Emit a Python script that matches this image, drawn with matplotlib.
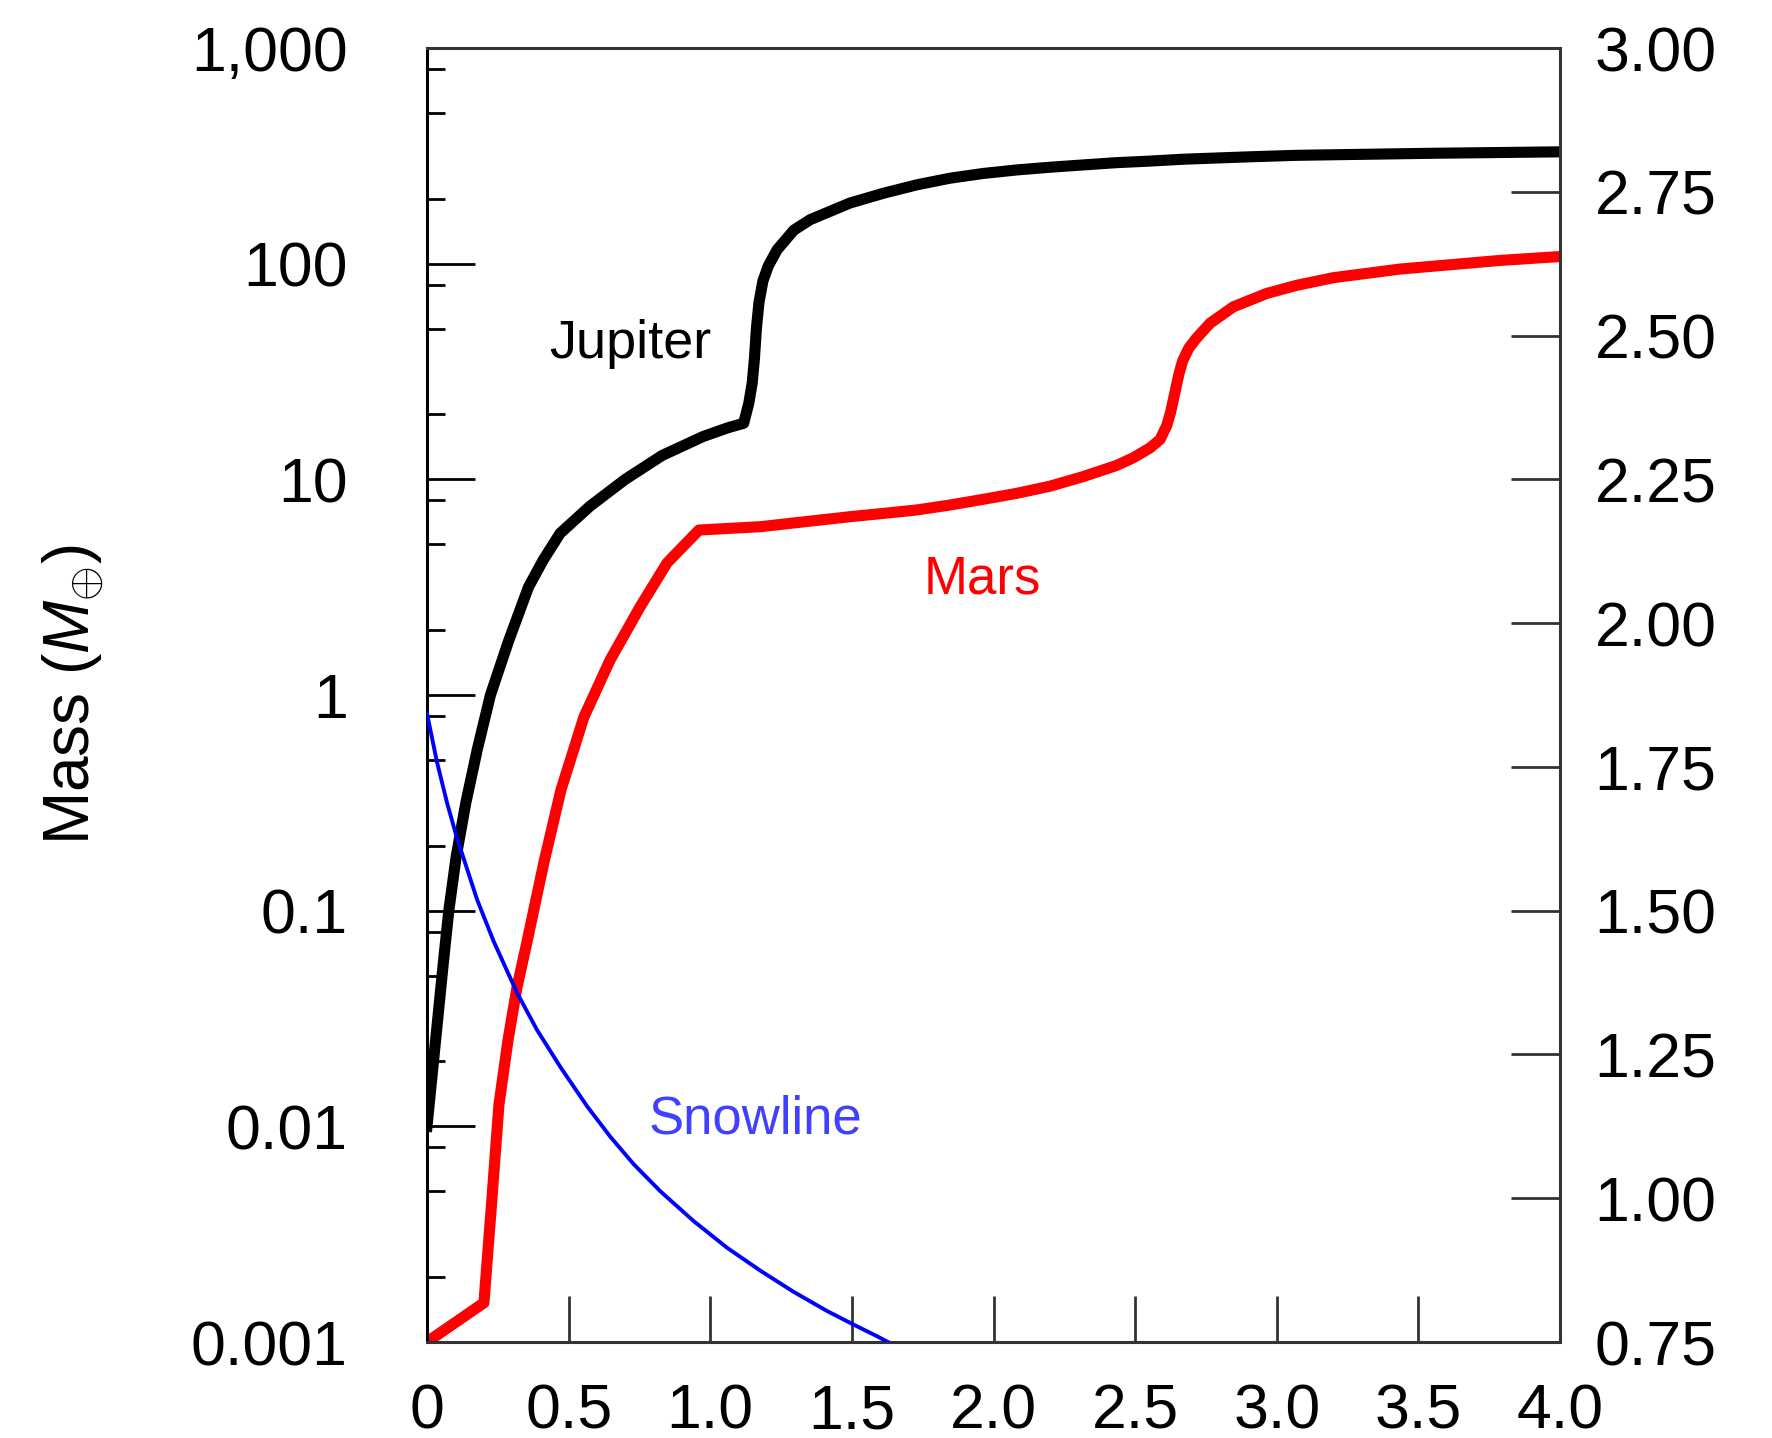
import matplotlib
matplotlib.use("Agg")
import matplotlib.pyplot as plt
from matplotlib.ticker import FixedLocator, FixedFormatter, NullFormatter

# time axis
x_ticks = [0, 0.5, 1.0, 1.5, 2.0, 2.5, 3.0, 3.5, 4.0]
x_labels = ['0', '0.5', '1.0', '1.5', '2.0', '2.5', '3.0', '3.5', '4.0']

mass_ticks = [0.001, 0.01, 0.1, 1, 10, 100, 1000]
mass_labels = ['0.001', '0.01', '0.1', '1', '10', '100', '1,000']

au_ticks = [0.75, 1.00, 1.25, 1.50, 1.75, 2.00, 2.25, 2.50, 2.75, 3.00]

# Jupiter mass vs time
jup_t = [0.0, 0.019, 0.038, 0.057, 0.077, 0.103, 0.137, 0.178, 0.224, 0.288,
         0.358, 0.410, 0.470, 0.575, 0.700, 0.830, 0.975, 1.060, 1.118, 1.136,
         1.148, 1.156, 1.163, 1.172, 1.186, 1.205, 1.236, 1.295, 1.353, 1.493,
         1.611, 1.729, 1.846, 1.964, 2.082, 2.200, 2.317, 2.435, 2.553, 2.670,
         2.788, 2.906, 3.071, 3.552, 4.0]
jup_m = [0.0100, 0.0178, 0.0316, 0.0562, 0.100, 0.178, 0.316, 0.562, 1.00, 1.78,
         3.16, 4.22, 5.62, 7.50, 10.0, 12.9, 15.8, 17.3, 18.2, 22.5,
         27.9, 36.3, 50.1, 66.1, 83.2, 97.7, 116, 143, 160, 191,
         212, 232, 249, 262, 272, 280, 287, 294, 299, 305,
         309, 313, 318, 325, 330]

# Mars mass vs time
mars_t = [0.0, 0.201, 0.229, 0.254, 0.286, 0.318, 0.353, 0.413, 0.473, 0.554,
          0.646, 0.752, 0.847, 0.960, 1.176, 1.493, 1.611, 1.729, 1.846, 1.964,
          2.082, 2.200, 2.317, 2.435, 2.494, 2.553, 2.588, 2.612, 2.625, 2.640,
          2.655, 2.668, 2.690, 2.717, 2.765, 2.847, 2.965, 3.071, 3.200, 3.435,
          3.788, 4.0]
mars_m = [0.001, 0.00152, 0.00456, 0.0126, 0.0251, 0.0443, 0.0716, 0.168, 0.363, 0.791,
          1.45, 2.56, 4.09, 5.82, 6.03, 6.71, 6.95, 7.21, 7.60, 8.08,
          8.61, 9.30, 10.3, 11.6, 12.6, 14.0, 15.3, 17.8, 20.4, 25.1,
          30.9, 35.5, 40.7, 45.2, 53.0, 63.1, 72.8, 79.4, 86.1, 94.4,
          103.5, 107.9]

# snowline position (AU, right axis) vs time
snow_t = [0.0, 0.035, 0.071, 0.106, 0.177, 0.235, 0.318, 0.388, 0.471, 0.565,
          0.647, 0.730, 0.824, 0.942, 1.059, 1.177, 1.295, 1.412, 1.507, 1.589, 1.627]
snow_au = [1.843, 1.759, 1.687, 1.626, 1.519, 1.447, 1.357, 1.293, 1.228, 1.160,
           1.107, 1.059, 1.012, 0.960, 0.914, 0.874, 0.837, 0.804, 0.780, 0.760, 0.750]

plt.rcParams['font.family'] = ['Liberation Sans', 'DejaVu Sans']
plt.rcParams['mathtext.fontset'] = 'custom'
plt.rcParams['mathtext.rm'] = 'Liberation Sans'
plt.rcParams['mathtext.it'] = 'Liberation Sans:italic'

W, H = 1772, 1438
fig = plt.figure(figsize=(W / 100, H / 100), dpi=100)
ax = fig.add_axes([427 / W, 1 - 1342 / H, (1560 - 427) / W, (1342 - 48) / H])

ax.plot(jup_t, jup_m, color='black', lw=8, solid_joinstyle='round')
ax.plot(mars_t, mars_m, color='#ff0000', lw=8, solid_joinstyle='round')

ax.set_yscale('log')
ax.set_xlim(0, 4)
ax.set_ylim(0.001, 1000)

ax.xaxis.set_major_locator(FixedLocator(x_ticks))
ax.xaxis.set_major_formatter(FixedFormatter(x_labels))
ax.yaxis.set_major_locator(FixedLocator(mass_ticks))
ax.yaxis.set_major_formatter(FixedFormatter(mass_labels))
minor = [m * 10.0 ** e for e in range(-3, 3) for m in (2, 5, 8)]
ax.yaxis.set_minor_locator(FixedLocator(minor))
ax.yaxis.set_minor_formatter(NullFormatter())
ax.xaxis.set_minor_locator(FixedLocator([]))

ax.tick_params(axis='y', which='major', direction='in', length=34.5, width=2,
               labelsize=45, pad=57, color='black', left=True, right=False)
ax.tick_params(axis='y', which='minor', direction='in', length=13, width=2,
               color='black', left=True, right=False)
ax.tick_params(axis='x', which='major', direction='in', length=33, width=2,
               labelsize=45, pad=29, color='#333333', top=False)

for side in ['top', 'bottom', 'right']:
    ax.spines[side].set_color('#333333')
    ax.spines[side].set_linewidth(2.2)
ax.spines['left'].set_color('black')
ax.spines['left'].set_linewidth(2.2)

ax.set_ylabel(r'Mass ($M_{\oplus}$)', fontsize=46)
ax.yaxis.set_label_coords(-0.282, 0.5)

ax.text(0.717, 36.6, 'Jupiter', fontsize=39, color='black', ha='center', va='baseline')
ax.text(1.959, 2.94, 'Mars', fontsize=38, color='#ff0000', ha='center', va='baseline')
ax.text(1.160, 0.0093, 'Snowline', fontsize=38, color='#4040ff', ha='center', va='baseline')

ax2 = ax.twinx()
ax2.plot(snow_t, snow_au, color='#0000ff', lw=2.8, solid_joinstyle='round')
ax2.set_ylim(0.75, 3.0)
ax2.set_xlim(0, 4)
ax2.yaxis.set_major_locator(FixedLocator(au_ticks))
ax2.yaxis.set_major_formatter(FixedFormatter(['%.2f' % v for v in au_ticks]))
ax2.tick_params(axis='y', direction='in', length=35, width=2, labelsize=45,
                pad=25, color='#333333')
for side in ['top', 'bottom', 'right', 'left']:
    ax2.spines[side].set_visible(False)

fig.savefig('out.png', dpi=100)
